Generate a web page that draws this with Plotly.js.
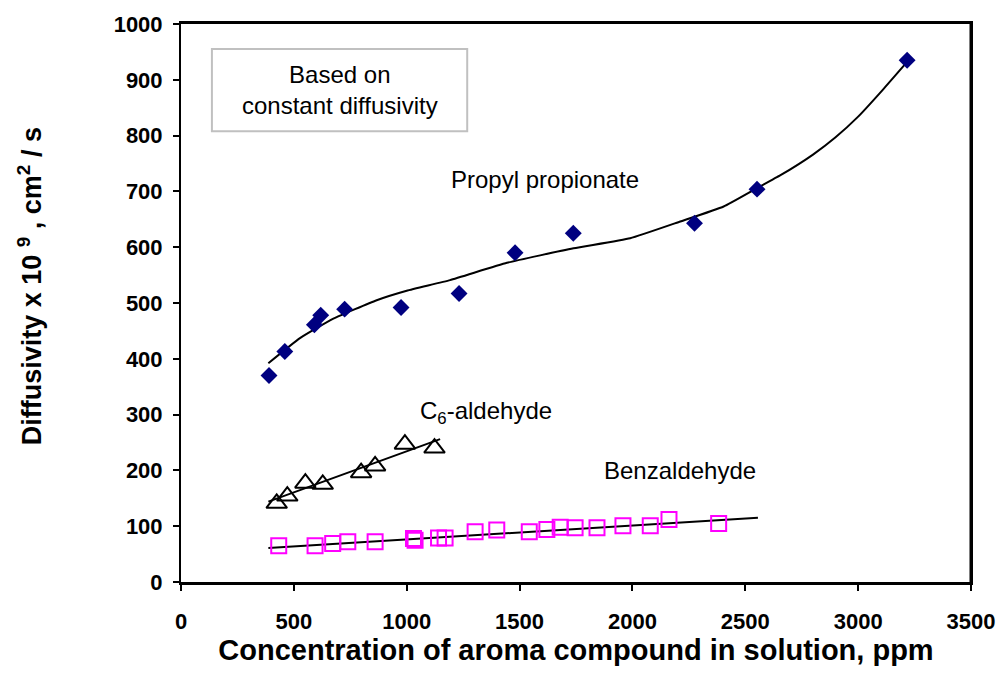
<!DOCTYPE html>
<html>
<head>
<meta charset="utf-8">
<script src="https://cdn.plot.ly/plotly-3.0.1.min.js"></script>
<style>html,body{margin:0;padding:0;background:#fff;}#chart{width:1001px;height:692px;}</style>
</head>
<body>
<div id="chart"></div>
<script>
// Propyl propionate (filled diamonds)
const propylX = [390, 460, 591, 619, 725, 975, 1232, 1480, 1738, 2275, 2552, 3217];
const propylY = [370, 413, 461, 478, 489, 492, 517, 590, 625, 643, 704, 935];
// Propyl propionate fitted curve
const propylFitX = [387, 527, 675, 867, 1000, 1192, 1444, 1739, 1990, 2212, 2404, 2552, 2656, 2800, 2900, 3000, 3109, 3217];
const propylFitY = [392, 437, 472, 505, 522, 541, 572, 598, 616, 646, 673, 706, 729, 766, 797, 834, 882, 932];

// C6-aldehyde (open triangles)
const c6X = [424, 471, 551, 628, 798, 860, 992, 1123];
const c6Y = [141, 154, 177, 175, 196, 208, 247, 240];
const c6FitX = [387, 1148];
const c6FitY = [144, 256];

// Benzaldehyde (open squares)
const benzX = [433, 594, 672, 739, 860, 1030, 1037, 1141, 1170, 1303, 1399, 1543, 1621, 1680, 1746, 1843, 1958, 2079, 2162, 2382];
const benzY = [65, 65, 69, 72, 72, 78, 75, 79, 79, 90, 93, 90, 94, 98, 97, 97, 101, 101, 112, 105];
const benzFitX = [387, 2556];
const benzFitY = [61, 115];

const xTicks = [0, 500, 1000, 1500, 2000, 2500, 3000, 3500];
const yTicks = [0, 100, 200, 300, 400, 500, 600, 700, 800, 900, 1000];

const FONT = "Liberation Sans, Arial, sans-serif";

const traces = [
  {x: benzFitX, y: benzFitY, mode: 'lines', line: {color: '#000', width: 2}, hoverinfo: 'skip'},
  {x: c6FitX, y: c6FitY, mode: 'lines', line: {color: '#000', width: 2}, hoverinfo: 'skip'},
  {x: propylFitX, y: propylFitY, mode: 'lines', line: {color: '#000', width: 2, shape: 'spline', smoothing: 0.4}, hoverinfo: 'skip'},
  {x: benzX, y: benzY, mode: 'markers', marker: {symbol: 'square-open', size: 15, color: '#ff00ff', line: {width: 2, color: '#ff00ff'}}},
  {x: c6X, y: c6Y, mode: 'markers', marker: {symbol: 'triangle-up-open', size: 18, color: '#000', line: {width: 2, color: '#000'}}},
  {x: propylX, y: propylY, mode: 'markers', marker: {symbol: 'diamond', size: 13, color: '#000080'}}
];

const layout = {
  width: 1001, height: 692,
  margin: {l: 181, r: 30, t: 24, b: 110},
  paper_bgcolor: '#fff', plot_bgcolor: '#fff',
  showlegend: false,
  font: {family: FONT, color: '#000'},
  xaxis: {
    range: [0, 3500], tickvals: xTicks, ticktext: xTicks.map(String),
    ticks: 'outside', ticklen: 6, tickwidth: 2, tickcolor: '#000',
    showline: true, linewidth: 3, linecolor: '#000', mirror: true,
    showgrid: false, zeroline: false, ticklabelstandoff: 12,
    tickfont: {family: FONT, size: 22, color: '#000', weight: 'bold'},
    title: {text: 'Concentration of aroma compound in solution, ppm', standoff: 6,
            font: {family: FONT, size: 29, color: '#000', weight: 'bold'}}
  },
  yaxis: {
    range: [0, 1000], tickvals: yTicks, ticktext: yTicks.map(String),
    ticks: 'outside', ticklen: 6, tickwidth: 2, tickcolor: '#000',
    showline: true, linewidth: 2, linecolor: '#000', mirror: true,
    showgrid: false, zeroline: false, ticklabelstandoff: 6,
    tickfont: {family: FONT, size: 22, color: '#000', weight: 'bold'}
  },
  shapes: [
    {type: 'line', xref: 'paper', yref: 'paper', x0: 1, x1: 1, y0: 0, y1: 1, line: {color: '#000', width: 3}},
    {type: 'rect', xref: 'x', yref: 'y', x0: 137, x1: 1268, y0: 808, y1: 955, line: {color: '#c0c0c0', width: 2}, fillcolor: 'rgba(0,0,0,0)'}
  ],
  annotations: [
    {x: 0, xref: 'paper', xanchor: 'center', yanchor: 'middle', xshift: -151, y: 530, yref: 'y', textangle: -90, showarrow: false,
     text: 'Diffusivity x 10 <sup>9</sup> , cm<sup>2</sup> / s',
     font: {family: FONT, size: 27, color: '#000', weight: 'bold'}},
    {x: 705, y: 882, xref: 'x', yref: 'y', text: 'Based on<br>constant diffusivity', showarrow: false,
     font: {family: FONT, size: 24, color: '#000'}},
    {x: 1613, y: 722, xref: 'x', yref: 'y', text: 'Propyl propionate', showarrow: false,
     font: {family: FONT, size: 24, color: '#000'}},
    {x: 1352, y: 303, xref: 'x', yref: 'y', text: 'C<sub>6</sub>-aldehyde', showarrow: false,
     font: {family: FONT, size: 24, color: '#000'}},
    {x: 2212, y: 199, xref: 'x', yref: 'y', text: 'Benzaldehyde', showarrow: false,
     font: {family: FONT, size: 24, color: '#000'}}
  ]
};

Plotly.newPlot('chart', traces, layout, {displayModeBar: false, staticPlot: true});
</script>
</body>
</html>
